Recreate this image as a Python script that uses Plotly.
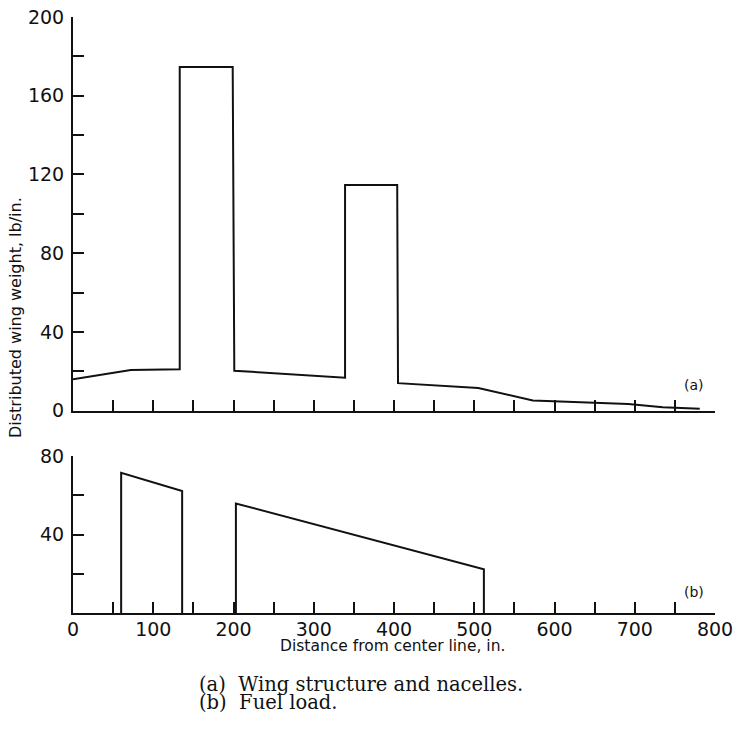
import plotly.graph_objects as go

# ---- data ----
# (a) wing structure and nacelles, distributed weight lb/in. vs distance (in.)
wing_x = [0, 72, 133, 133, 199, 201, 339, 339, 404, 405, 505, 573, 692, 735, 781]
wing_y = [16, 20.7, 21, 174.6, 174.6, 20.3, 16.8, 114.7, 114.7, 14, 11.5, 5.2, 3.4, 1.8, 1.0]

# (b) fuel load: two separate tank regions
fuel1_x = [60, 60, 136, 136]
fuel1_y = [0, 71.4, 62.2, 0]
fuel2_x = [203, 203, 512, 512]
fuel2_y = [0, 55.8, 22.3, 0]

x_ticks = list(range(0, 801, 50))
x_labels = [str(v) if v % 100 == 0 else "" for v in x_ticks]
top_y_ticks = list(range(0, 201, 20))
top_y_labels = [str(v) if v % 40 == 0 else "" for v in top_y_ticks]
bot_y_ticks = list(range(0, 81, 20))
bot_y_labels = [str(v) if (v % 40 == 0 and v > 0) else "" for v in bot_y_ticks]

ink = "#111111"
tick_font = dict(family="DejaVu Sans", size=19, color=ink)

W, H = 737, 729
L, R, T, B = 73, 22, 17, 116
pw, ph = W - L - R, H - T - B

fig = go.Figure()
fig.add_trace(go.Scatter(x=wing_x, y=wing_y, mode="lines",
                         line=dict(color=ink, width=2), xaxis="x", yaxis="y",
                         showlegend=False, hoverinfo="skip"))
fig.add_trace(go.Scatter(x=fuel1_x + [None] + fuel2_x, y=fuel1_y + [None] + fuel2_y,
                         mode="lines", line=dict(color=ink, width=2),
                         xaxis="x2", yaxis="y2", showlegend=False, hoverinfo="skip"))

axis_common = dict(showgrid=False, zeroline=False, showline=True, linecolor=ink,
                   linewidth=2, ticks="inside", ticklen=11, tickwidth=2,
                   tickcolor=ink, tickfont=tick_font, automargin=False)

top_dom_lo = (H - B - 410.7) / ph
bot_dom_hi = (H - B - 456) / ph

fig.update_layout(
    width=W, height=H,
    margin=dict(l=L, r=R, t=T, b=B),
    paper_bgcolor="white", plot_bgcolor="white",
    xaxis=dict(domain=[0, 1], range=[0, 800], anchor="y", tickmode="array",
               tickvals=x_ticks, ticktext=["" for _ in x_ticks], **axis_common),
    yaxis=dict(domain=[top_dom_lo, 1], range=[0, 200], anchor="x", tickmode="array",
               tickvals=top_y_ticks, ticktext=top_y_labels, ticklabelstandoff=3,
               **axis_common),
    xaxis2=dict(domain=[0, 1], range=[0, 800], anchor="y2", tickmode="array",
                tickvals=x_ticks, ticktext=x_labels, ticklabelstandoff=-2,
                **axis_common),
    yaxis2=dict(domain=[0, bot_dom_hi], range=[0, 80], anchor="x2", tickmode="array",
                tickvals=bot_y_ticks, ticktext=bot_y_labels, ticklabelstandoff=3,
                **axis_common),
)

label_font = dict(family="DejaVu Sans", size=14, color=ink)
fig.add_annotation(x=774, y=13, xref="x", yref="y", text="(a)", showarrow=False,
                   font=label_font)
fig.add_annotation(x=774, y=10.6, xref="x2", yref="y2", text="(b)", showarrow=False,
                   font=label_font)


def px_ann(x, y, text, font, xanchor="center", yanchor="middle", angle=0):
    """place an annotation at page pixel (x, y) measured from the top-left."""
    fig.add_annotation(x=(x - L) / pw, y=(H - B - y) / ph, xref="paper", yref="paper",
                       text=text, showarrow=False, xanchor=xanchor, yanchor=yanchor,
                       textangle=angle, font=font)


px_ann(15, 318, "Distributed wing weight, lb/in.",
       dict(family="DejaVu Sans", size=16, color=ink), angle=-90)
px_ann(392, 646, "Distance from center line, in.",
       dict(family="DejaVu Sans", size=15.5, color=ink))

cap_font = dict(family="DejaVu Serif", size=19.5, color=ink)
px_ann(197, 684, "(a)  Wing structure and nacelles.", cap_font, xanchor="left")
px_ann(197, 702, "(b)  Fuel load.", cap_font, xanchor="left")

fig.write_html("out.html",
               config={"displayModeBar": False},
               post_script="document.body.style.margin='0';"
                           "document.body.style.overflow='hidden';")
